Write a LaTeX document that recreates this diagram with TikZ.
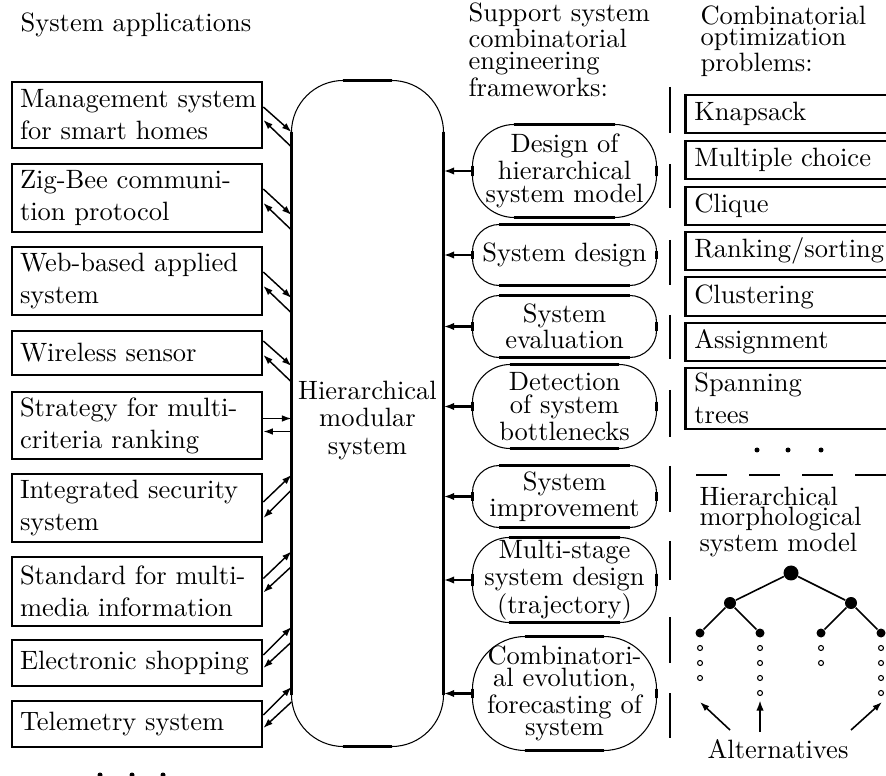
\documentclass[tikz,border=0pt]{standalone}
\usetikzlibrary{arrows.meta,calc}
\newlength\pxu
\setlength\pxu{0.3774pt}
\newcommand\drawoval[2]{%
  \draw[thn, rounded corners=#2\pxu] (#1.north west) rectangle (#1.south east);
  \draw[thk] ([xshift=#2\pxu]#1.north west) -- ([xshift=-#2\pxu]#1.north east)
             ([xshift=#2\pxu]#1.south west) -- ([xshift=-#2\pxu]#1.south east)
             ([yshift=-#2\pxu]#1.north west) -- ([yshift=#2\pxu]#1.south west)
             ([yshift=-#2\pxu]#1.north east) -- ([yshift=#2\pxu]#1.south east);
}
\begin{document}
\begin{tikzpicture}[x=0.3774pt,y=-0.3774pt,
  thk/.style={line width=1pt},
  thn/.style={line width=0.4pt},
  arr/.style={line width=0.55pt, -{Latex[length=3.6pt,width=2.5pt]}},
  arrthk/.style={line width=1pt, -{Latex[length=4pt,width=2.8pt]}},
  lbox/.style={draw, line width=1pt, minimum width=250\pxu, text width=234\pxu, inner xsep=8\pxu, inner ysep=0pt, align=left, font=\fontsize{10}{12}\selectfont},
  rbox/.style={draw, line width=1pt, anchor=west, minimum width=230\pxu, text width=212\pxu, inner xsep=9\pxu, inner ysep=0pt, align=left, font=\fontsize{10}{12}\selectfont},
  ovalnode/.style={minimum width=183\pxu, inner sep=0pt, align=center},
  hdr/.style={anchor=base west, inner sep=0pt, align=left},
  bigdot/.style={circle, fill, inner sep=0pt},
  smalldot/.style={circle, draw, line width=0.4pt, inner sep=0pt, minimum size=5\pxu},
  dotmark/.style={circle, fill, inner sep=0pt, minimum size=5\pxu}
]
\useasboundingbox (0,0) rectangle (886,776);

% headers (base = baseline of last line)
\node[hdr] (h1) at (20,32) {System applications};
\node[hdr, font=\fontsize{10}{8.2}\selectfont] (h2) at (468,96.5) {Support system\\combinatorial\\engineering\\frameworks:};
\node[hdr, font=\fontsize{10}{8}\selectfont] (h3) at (700,72) {Combinatorial\\optimization\\problems:};
\node[hdr, font=\fontsize{10}{7.6}\selectfont] (h4) at (699,552) {Hierarchical\\morphological\\system model};

% left boxes
\node[lbox, minimum height=66\pxu] (b1) at (137,115) {\mbox{Management system}\\for smart homes};
\node[lbox, minimum height=68\pxu] (b2) at (137,198) {Zig-Bee communi-\\tion protocol};
\node[lbox, minimum height=68\pxu] (b3) at (137,281) {Web-based applied\\system};
\node[lbox, minimum height=44\pxu] (b4) at (137,353) {Wireless sensor};
\node[lbox, minimum height=67\pxu] (b5) at (137,425.5) {Strategy for multi-\\criteria ranking};
\node[lbox, minimum height=68\pxu] (b6) at (137,508) {Integrated security\\system};
\node[lbox, minimum height=69\pxu] (b7) at (137,591.5) {Standard for multi-\\media information};
\node[lbox, minimum height=46\pxu] (b8) at (137,663) {Electronic shopping};
\node[lbox, minimum height=46\pxu] (b9) at (137,724) {Telemetry system};

% dots below left boxes
\node[dotmark] (d1) at (100,775) {};
\node[dotmark] (d2) at (132,775) {};
\node[dotmark] (d3) at (163,775) {};

% central node
\node[minimum width=151\pxu, minimum height=665\pxu, inner sep=0pt] (hms) at (367.5,413.5) {};
\drawoval{hms}{52}
\node[align=center, font=\fontsize{10}{10.5}\selectfont] (hmst) at ($(hms.center)+(0,7)$) {Hierarchical\\modular\\system};

% connectors left boxes <-> central node
\draw[arr] ($(b1.east)+(0,-8)$) -- ($(b1.east -| hms.west)+(0,17)$);
\draw[arr] ($(b1.east -| hms.west)+(0,32)$) -- ($(b1.east)+(0,5)$);
\draw[arr] ($(b2.east)+(0,-9)$) -- ($(b2.east -| hms.west)+(0,17)$);
\draw[arr] ($(b2.east -| hms.west)+(0,32)$) -- ($(b2.east)+(0,5)$);
\draw[arr] ($(b3.east)+(0,-9)$) -- ($(b3.east -| hms.west)+(0,17)$);
\draw[arr] ($(b3.east -| hms.west)+(0,32)$) -- ($(b3.east)+(0,5)$);
\draw[arr] ($(b4.east)+(0,-12)$) -- ($(b4.east -| hms.west)+(0,13)$);
\draw[arr] ($(b4.east -| hms.west)+(0,29)$) -- ($(b4.east)+(0,2)$);
\draw[arr] ($(b5.east)+(0,-7)$) -- ($(b5.east -| hms.west)+(0,-7)$);
\draw[arr] ($(b5.east -| hms.west)+(0,6)$) -- ($(b5.east)+(0,6)$);
\draw[arr] ($(b6.east)+(0,-6)$) -- ($(b6.east -| hms.west)+(0,-33)$);
\draw[arr] ($(b6.east -| hms.west)+(0,-18)$) -- ($(b6.east)+(0,10)$);
\draw[arr] ($(b7.east)+(0,-13)$) -- ($(b7.east -| hms.west)+(0,-40)$);
\draw[arr] ($(b7.east -| hms.west)+(0,-25)$) -- ($(b7.east)+(0,1)$);
\draw[arr] ($(b8.east)+(0,-8)$) -- ($(b8.east -| hms.west)+(0,-36)$);
\draw[arr] ($(b8.east -| hms.west)+(0,-21)$) -- ($(b8.east)+(0,5)$);
\draw[arr] ($(b9.east)+(0,-9)$) -- ($(b9.east -| hms.west)+(0,-37)$);
\draw[arr] ($(b9.east -| hms.west)+(0,-22)$) -- ($(b9.east)+(0,4)$);

% framework ovals
\node[ovalnode, minimum height=92\pxu, font=\fontsize{10}{8.6}\selectfont] (o1) at (564.5,171) {Design of\\hierarchical\\system model};
\node[ovalnode, minimum height=60\pxu] (o2) at (564.5,255) {System design};
\node[ovalnode, minimum height=61\pxu, font=\fontsize{10}{10}\selectfont] (o3) at (564.5,326.5) {System\\evaluation};
\node[ovalnode, minimum height=83\pxu, font=\fontsize{10}{8.6}\selectfont] (o4) at (564.5,406.5) {Detection\\ of system\\bottlenecks};
\node[ovalnode, minimum height=61\pxu, font=\fontsize{10}{8}\selectfont] (o5) at (564.5,496.5) {System\\improvement};
\node[ovalnode, minimum height=84\pxu, font=\fontsize{10}{8.5}\selectfont] (o6) at (564.5,580) {Multi-stage\\system design\\(trajectory)};
\node[ovalnode, minimum height=113\pxu, font=\fontsize{10}{8.3}\selectfont] (o7) at (564.5,693.5) {Combinatori-\\al evolution,\\forecasting of\\system};
\drawoval{o1}{42}
\drawoval{o2}{27}
\drawoval{o3}{27}
\drawoval{o4}{38}
\drawoval{o5}{27}
\drawoval{o6}{37}
\drawoval{o7}{53}
\foreach \o in {o1,o2,o3,o4,o5,o6,o7}
  \draw[arrthk] (\o.west) -- (\o.west -| hms.east);

% separator bars
\foreach \a/\b in {87/133,164/208,240/285,315/359,390/437,466/512,541/580,617/663,693/738}
  \draw[thk] (670,\a) -- (670,\b);

% problem boxes
\node[rbox, minimum height=38\pxu] (p1) at (684,114) {Knapsack};
\node[rbox, minimum height=38\pxu] (p2) at (684,160) {Multiple choice};
\node[rbox, minimum height=38\pxu] (p3) at (684,206) {Clique};
\node[rbox, minimum height=38\pxu] (p4) at (684,251) {Ranking/sorting};
\node[rbox, minimum height=39\pxu] (p5) at (684,296.5) {Clustering};
\node[rbox, minimum height=38\pxu] (p6) at (684,342) {Assignment};
\node[rbox, minimum height=61\pxu] (p7) at (684,398.5) {Spanning\\trees};

\node[dotmark] (e1) at (757,450) {};
\node[dotmark] (e2) at (788,450) {};
\node[dotmark] (e3) at (821,450) {};
\draw[thk, dash pattern=on 11.7pt off 8.3pt] (696,475) -- (900,475);

% tree
\node[bigdot, minimum size=15\pxu] (t0) at (791,573) {};
\node[bigdot, minimum size=12\pxu] (t1) at (730,603) {};
\node[bigdot, minimum size=12\pxu] (t2) at (851,603) {};
\node[bigdot, minimum size=9\pxu] (t11) at (700,633) {};
\node[bigdot, minimum size=9\pxu] (t12) at (760,633) {};
\node[bigdot, minimum size=9\pxu] (t21) at (821,633) {};
\node[bigdot, minimum size=9\pxu] (t22) at (881,633) {};
\draw[line width=0.6pt] (t0) -- (t1) (t0) -- (t2) (t1) -- (t11) (t1) -- (t12) (t2) -- (t21) (t2) -- (t22);
\foreach \y [count=\i] in {648,663,678} \node[smalldot] (a\i) at (700,\y) {};
\foreach \y [count=\i] in {648,663,678,693} \node[smalldot] (b\i) at (760,\y) {};
\foreach \y [count=\i] in {648,663} \node[smalldot] (c\i) at (821,\y) {};
\foreach \y [count=\i] in {648,663,678,693} \node[smalldot] (f\i) at (881,\y) {};

\node (alt) at (778,749) {Alternatives};
\coordinate (as1) at (730,730);
\coordinate (ae1) at (700,702);
\coordinate (as2) at (760,732);
\coordinate (ae2) at (760,700);
\coordinate (as3) at (851,730);
\coordinate (ae3) at (882,702);
\draw[arr, line width=0.6pt] (as1) -- (ae1);
\draw[arrthk] (as2) -- (ae2);
\draw[arr, line width=0.6pt] (as3) -- (ae3);
\end{tikzpicture}
\end{document}
